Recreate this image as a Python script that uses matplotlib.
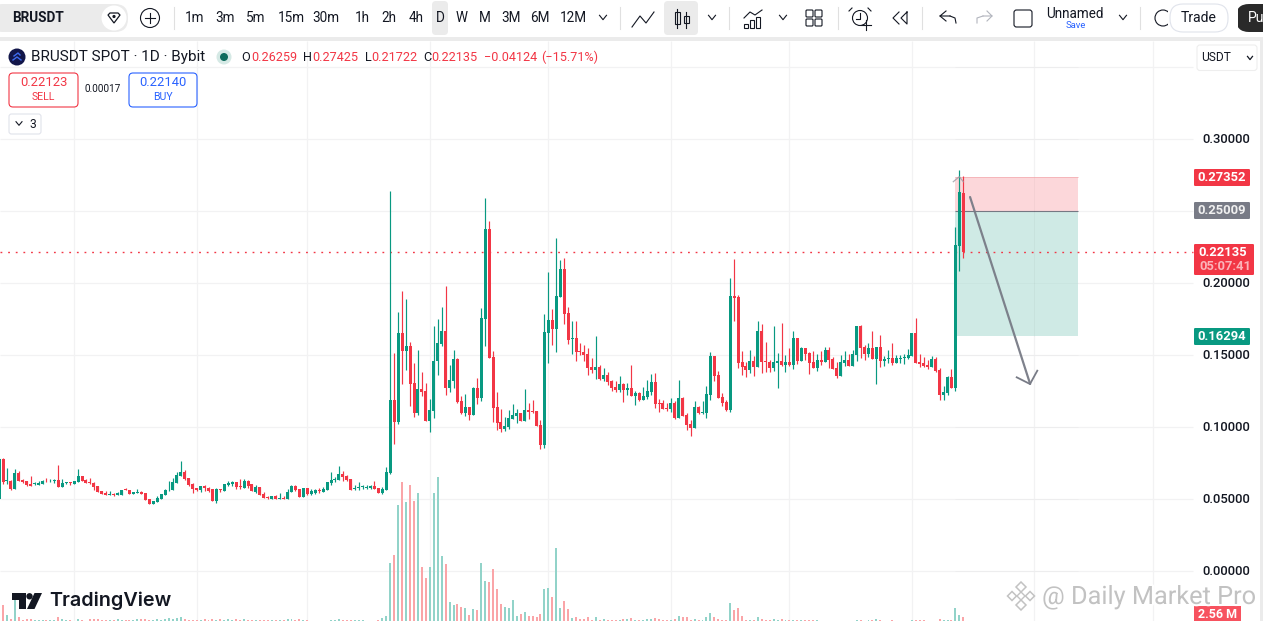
import matplotlib
matplotlib.use("Agg")
import matplotlib.pyplot as plt
import matplotlib.patheffects as pe
from matplotlib.patches import FancyBboxPatch, Circle, Rectangle, Polygon

plt.rcParams['font.family'] = ['Roboto', 'DejaVu Sans']

# ---------- data (daily candles, BRUSDT) ----------
opens = [.0500,
 .0778,.0625,.0625,.0570,.0681,.0632,.0625,.0604,.0604,.0598,
 .0604,.0625,.0623,.0625,.0632,.0584,.0612,.0618,.0607,.0618,
 .0660,.0632,.0618,.0611,.0591,.0558,.0544,.0528,.0535,.0528,
 .0528,.0570,.0563,.0535,
 .0544,.0549,.0542,.0500,.0466,.0480,.0500,.0528,.0560,.0563,
 .0611,.0660,.0688,.0646,.0604,.0577,.0563,.0591,.0577,.0570,
 .0486,.0570,.0556,.0598,.0604,.0618,.0591,.0577,.0625,.0604,.0549,
 .0584,.0535,.0514,.0500,.0521,.0500,.0507,.0503,.0549,.0591,
 .0570,.0514,.0577,.0535,.0542,.0563,.0549,.0563,.0611,.0632,
 .0632,.0674,.0660,.0639,.0572,.0579,.0581,.0579,.0577,.0591,
 .0577,.0542,.0563,
 .0679,.1188,.1035,.1653,.1528,.1562,.1306,.1097,.1264,.1250,
 .1042,.1111,.1458,.1576,.1667,.1271,.1319,.1472,.1181,.1097,
 .1139,.1083,.1271,.1201,.1750,.2375,.1486,.1139,.1035,.0986,
 .1000,.1056,.1076,.1097,.1042,.1118,.1111,.1111,.1014,.0875,
 .1653,.1743,.1681,.1903,.2097,.1792,.1611,.1618,
 .1528,.1521,.1507,.1417,.1396,.1417,.1333,.1361,.1319,.1278,
 .1257,.1299,.1257,.1271,.1215,.1236,.1188,.1208,.1243,.1312,
 .1167,.1167,.1132,.1125,.1167,.1062,.1201,.1083,.1021,.0993,
 .1139,.1097,.1097,.1222,.1493,.1361,.1208,.1174,.1118,.1910,
 .1903,.1451,.1424,.1396,.1458,.1417,
 .1667,.1458,.1451,.1410,.1444,.1458,.1430,.1451,.1430,.1618,
 .1458,.1549,.1514,.1451,.1410,.1465,.1451,.1535,.1472,.1410,
 .1354,.1444,.1465,.1423,.1500,.1701,.1555,.1507,.1549,.1472,
 .1555,.1458,.1472,.1479,.1444,.1474,.1481,.1479,.1493,.1653,
 .1451,.1444,.1430,.1416,.1472,.1396,.1222,.1236,.1347,.1271,
 .2257,.26259]
highs = [.0785,
 .0785,.0716,.0632,.0709,.0695,.0639,.0625,.0660,.0618,.0625,
 .0632,.0646,.0639,.0639,.0736,.0639,.0618,.0618,.0625,.0709,
 .0660,.0639,.0646,.0618,.0591,.0558,.0556,.0556,.0542,.0549,
 .0563,.0577,.0563,.0549,
 .0570,.0556,.0542,.0500,.0486,.0521,.0535,.0570,.0625,.0646,
 .0688,.0764,.0702,.0646,.0611,.0577,.0591,.0598,.0584,.0570,
 .0577,.0570,.0604,.0625,.0625,.0618,.0639,.0639,.0632,.0604,.0598,
 .0584,.0549,.0521,.0521,.0528,.0542,.0521,.0570,.0598,.0598,
 .0570,.0577,.0577,.0570,.0570,.0577,.0584,.0618,.0688,.0653,
 .0730,.0695,.0667,.0639,.0598,.0618,.0598,.0598,.0598,.0625,
 .0577,.0584,.0723,
 .2639,.1514,.1798,.1945,.1889,.1590,.1445,.1535,.1382,.1306,
 .1194,.1701,.1750,.1833,.1979,.1431,.1535,.1479,.1215,.1229,
 .1139,.1278,.1340,.1826,.2590,.2431,.1528,.1243,.1125,.1069,
 .1118,.1160,.1125,.1097,.1264,.1167,.1188,.1111,.1049,.1785,
 .2076,.1819,.2313,.2160,.2174,.1833,.1736,.1736,
 .1583,.1569,.1549,.1479,.1632,.1431,.1410,.1382,.1326,.1319,
 .1354,.1306,.1306,.1431,.1250,.1243,.1278,.1326,.1368,.1375,
 .1194,.1188,.1167,.1201,.1181,.1326,.1208,.1097,.1049,.1181,
 .1146,.1181,.1285,.1521,.1493,.1389,.1236,.1188,.2035,.2167,
 .1917,.1528,.1451,.1535,.1493,.1736,
 .1715,.1590,.1465,.1701,.1514,.1722,.1500,.1549,.1667,.1618,
 .1555,.1549,.1521,.1528,.1507,.1528,.1555,.1555,.1486,.1451,
 .1500,.1528,.1507,.1535,.1701,.1708,.1570,.1583,.1667,.1555,
 .1639,.1493,.1535,.1583,.1500,.1500,.1507,.1542,.1653,.1757,
 .1507,.1486,.1465,.1493,.1486,.1410,.1285,.1354,.1403,.2389,
 .2785,.27425]
lows = [.0500,
 .0604,.0604,.0563,.0570,.0625,.0611,.0591,.0591,.0598,.0598,
 .0604,.0618,.0618,.0611,.0584,.0584,.0604,.0598,.0607,.0618,
 .0625,.0611,.0604,.0563,.0549,.0535,.0528,.0528,.0521,.0528,
 .0528,.0563,.0535,.0535,
 .0542,.0535,.0493,.0466,.0466,.0480,.0500,.0528,.0556,.0563,
 .0611,.0660,.0632,.0591,.0542,.0556,.0549,.0556,.0549,.0486,
 .0473,.0549,.0556,.0591,.0591,.0570,.0570,.0577,.0577,.0556,.0542,
 .0528,.0507,.0500,.0500,.0500,.0500,.0500,.0500,.0549,.0556,
 .0514,.0514,.0528,.0528,.0535,.0542,.0549,.0563,.0598,.0618,
 .0632,.0625,.0625,.0563,.0563,.0563,.0570,.0570,.0570,.0570,
 .0542,.0535,.0563,
 .0674,.0882,.1021,.1299,.1396,.1146,.1069,.1083,.1215,.1042,
 .0965,.1063,.1361,.1562,.1222,.1243,.1271,.1167,.1090,.1076,
 .1049,.1083,.1160,.1181,.1562,.1479,.1035,.0979,.0965,.0972,
 .0986,.1056,.1028,.1042,.1042,.1056,.1097,.1007,.0847,.0854,
 .1445,.1569,.1521,.1903,.1715,.1576,.1507,.1458,
 .1500,.1458,.1361,.1375,.1333,.1326,.1319,.1292,.1250,.1243,
 .1243,.1174,.1222,.1215,.1153,.1181,.1188,.1194,.1222,.1132,
 .1104,.1125,.1111,.1104,.1055,.1062,.1076,.0979,.0937,.0993,
 .1090,.1090,.1062,.1188,.1319,.1201,.1146,.1111,.1104,.1736,
 .1410,.1361,.1347,.1375,.1354,.1417,
 .1375,.1382,.1382,.1389,.1271,.1423,.1382,.1423,.1403,.1437,
 .1458,.1465,.1368,.1410,.1389,.1430,.1451,.1410,.1403,.1340,
 .1354,.1423,.1423,.1423,.1458,.1479,.1465,.1486,.1472,.1298,
 .1416,.1423,.1444,.1430,.1444,.1444,.1437,.1472,.1493,.1444,
 .1416,.1416,.1403,.1416,.1382,.1187,.1187,.1222,.1271,.1250,
 .2083,.21722]
closes = [.0778,
 .0618,.0630,.0570,.0681,.0625,.0618,.0598,.0591,.0611,.0611,
 .0625,.0623,.0627,.0630,.0584,.0611,.0618,.0612,.0625,.0660,
 .0625,.0611,.0611,.0584,.0549,.0535,.0528,.0535,.0528,.0540,
 .0563,.0563,.0535,.0549,
 .0551,.0535,.0493,.0466,.0486,.0507,.0535,.0563,.0565,.0618,
 .0667,.0688,.0639,.0598,.0570,.0563,.0591,.0577,.0556,.0486,
 .0570,.0563,.0604,.0609,.0616,.0581,.0582,.0625,.0591,.0556,.0584,
 .0528,.0507,.0509,.0521,.0500,.0509,.0503,.0549,.0591,.0563,
 .0514,.0577,.0535,.0556,.0563,.0556,.0570,.0618,.0632,.0639,
 .0674,.0653,.0632,.0563,.0579,.0584,.0588,.0586,.0591,.0570,
 .0542,.0570,.0688,
 .1188,.1035,.1653,.1528,.1562,.1299,.1097,.1264,.1243,.1042,
 .1118,.1458,.1583,.1667,.1271,.1326,.1472,.1174,.1097,.1139,
 .1083,.1271,.1201,.1757,.2375,.1479,.1132,.1028,.0986,.1007,
 .1063,.1083,.1097,.1042,.1118,.1104,.1104,.1007,.0875,.1660,
 .1743,.1681,.1910,.2097,.1785,.1604,.1618,.1521,
 .1521,.1500,.1410,.1396,.1417,.1333,.1361,.1312,.1271,.1257,
 .1299,.1257,.1271,.1215,.1236,.1188,.1215,.1250,.1312,.1160,
 .1160,.1125,.1125,.1167,.1062,.1201,.1076,.1014,.0993,.1139,
 .1097,.1104,.1229,.1493,.1354,.1201,.1167,.1118,.1910,.1896,
 .1445,.1417,.1396,.1458,.1417,.1667,
 .1451,.1451,.1410,.1451,.1458,.1430,.1451,.1430,.1618,.1458,
 .1549,.1507,.1444,.1410,.1465,.1451,.1535,.1465,.1403,.1354,
 .1451,.1465,.1423,.1507,.1701,.1549,.1507,.1549,.1472,.1555,
 .1458,.1472,.1479,.1444,.1479,.1481,.1486,.1500,.1653,.1444,
 .1437,.1423,.1416,.1472,.1389,.1222,.1243,.1347,.1271,.2264,
 .2632,.22135]
# volume in millions
volumes = [7.5,
 8.5,3.5,1.5,11,2.5,1,1.3,1.3,1,1,
 1,1,1,.8,2.5,1.5,1,1,.5,1.5,
 1,.5,1.5,1.3,1.3,1,1,1,1,1.5,
 1,1,1,1,
 1.3,1.3,1.3,1,1,1.3,1,1.3,2,1.5,
 2,2.5,1.5,1,1,1,1,1.3,1,1.3,
 1,1.3,1,1.3,1,1.3,1,1.3,1,1,1,
 .8,1,1,1,.8,1,1,1.5,1.3,1,
 1.3,1,.8,.5,.5,.5,.5,.5,1,1,
 1.3,1,.8,1,1,1,.8,.5,.5,.5,
 1,2,3,
 29.5,33.5,58.5,70,60,68.5,60.5,64.5,27.5,22,
 27.5,64.5,72.5,33,29,10,8.5,9,7.5,7,
 3.5,6.5,6,29.5,20.5,20,26.5,16.5,9,7.5,
 7,11,3,4,5,3,3,2.5,4,16.5,
 17,12.5,37,7,10.5,6.5,2,2.5,
 1.5,1.5,2.5,1,2.5,1,1.5,1,1,1,
 1,1.5,1.5,2,1,1,1,1.5,1.5,2,
 1.5,1,1,1,1.5,3,
 2.5,2.5,1,1.5,1,1,2.5,4.5,2.5,1.5,
 1,1,9.5,6,7,3,1,1,1,2.5,
 1.5,1,1,1.5,1,1.5,1,1,1,1,
 1,1,1,1,1,.4,.4,.4,.4,.4,
 .4,.4,.4,.4,1,1,.4,1,1,1.5,
 1,.4,.4,1,.4,.4,.4,.4,1,1,
 1,1,.4,.4,.4,1.5,1,1,1,7,
 3.5,2.56]
month_starts = [19, 50, 78, 109, 139, 170, 200, 231, 262, 292]
price_ticks = [0.35, 0.30, 0.25, 0.20, 0.15, 0.10, 0.05, 0.00]
price_labels = ['', '0.30000', '', '0.20000', '0.15000', '0.10000', '0.05000', '0.00000']
entry_price, stop_price, target_price = 0.25009, 0.27352, 0.16294
last_close = 0.22135
position_bars = (242, 273)
arrow_bars = (245.7, 260.9)
arrow_prices = (0.2597, 0.1299)

GREEN, RED, GRAY = '#089981', '#f23645', '#787b86'
n = len(closes)
assert all(len(a) == n for a in (opens, highs, lows, volumes)), [len(a) for a in (opens, highs, lows, closes, volumes)]

W, H = 1263, 621
fig = plt.figure(figsize=(W/100, H/100), dpi=100, facecolor='white')

# scales: one bar = 3.952 px, 0.05 = 72 px
BAR = 3.952
X0 = -0.95
bar_left, bar_right = (0 - X0)/BAR, (W - X0)/BAR
ax = fig.add_axes([0, 0, 1, 1], zorder=1)
ax.set_xlim(bar_left, bar_right)
ax.set_ylim((571-621)/1440, 571/1440)
ax.axis('off')
vol = fig.add_axes([0, 0, 1, 1], zorder=2, sharex=ax)
vol.set_ylim(0.5, 311)
vol.axis('off')
vol.patch.set_alpha(0)
ax2 = fig.add_axes([0, 0, 1, 1], zorder=3, sharex=ax, sharey=ax)
ax2.axis('off')
ax2.patch.set_alpha(0)
ui = fig.add_axes([0, 0, 1, 1], zorder=4)
ui.set_xlim(0, W)
ui.set_ylim(H, 0)
ui.axis('off')
ui.patch.set_alpha(0)

# grid
grid_end = (1193 - X0)/BAR
ax.hlines(price_ticks, bar_left, grid_end, color='#f2f2f3', lw=0.9, zorder=0)
ax.vlines(month_starts, (571-621)/1440, (571-41)/1440, color='#f2f2f3', lw=0.9, zorder=0)

# trade position box
ax.add_patch(Rectangle((position_bars[0], entry_price), position_bars[1]-position_bars[0], stop_price-entry_price,
                       fc='#fcd7da', ec='none', zorder=1))
ax.add_patch(Rectangle((position_bars[0], target_price), position_bars[1]-position_bars[0], entry_price-target_price,
                       fc='#cfeae5', ec='none', zorder=1))
ax.hlines(entry_price, position_bars[0], position_bars[1], color=GRAY, lw=0.8, zorder=2)
ax.hlines(stop_price, position_bars[0], position_bars[1], color='#f5b5ba', lw=0.7, zorder=2)
ax.hlines(price_ticks, position_bars[0], position_bars[1], color='#000000', alpha=0.02, lw=0.8, zorder=2)
ax.vlines([m for m in month_starts if position_bars[0] < m < position_bars[1]],
          target_price, stop_price, color='#000000', alpha=0.03, lw=0.8, zorder=2)

# last price line
ax.plot([bar_left, grid_end], [last_close, last_close], color=RED, lw=1, dashes=(1.3, 4.2), zorder=3)

# volume bars
xs = list(range(n))
vol_colors = ['#92d3c9' if c >= o else '#faa5a8' for o, c in zip(opens, closes)]
vol.bar(xs, volumes, width=0.5, color=vol_colors, lw=0)

# candles
cols = [GREEN if c >= o else RED for o, c in zip(opens, closes)]
ax2.vlines(xs, lows, highs, colors=cols, lw=0.85, zorder=3)
ax2.bar(xs, [abs(c-o) for o, c in zip(opens, closes)], bottom=[min(o, c) for o, c in zip(opens, closes)],
        width=0.76, color=cols, lw=0, zorder=4)

# drawn arrow
ax2.plot(arrow_bars, arrow_prices, color=GRAY, lw=1.6, alpha=0.95, zorder=6, solid_capstyle='round')
ui.plot([1016.7, 1030, 1037.3], [377.3, 384, 370.7], color=GRAY, lw=1.3, zorder=6)
ui.plot([953.3, 959.3, 963.3], [181.7, 176.7, 181.7], color='#9a9ca6', lw=0.9, alpha=.8, zorder=6)

# ---------- UI helpers ----------
def T(x, y, s, size=13, color='#131722', ha='left', va='center', weight='normal', **kw):
    return ui.text(x, y, s, fontsize=size*0.72, color=color, ha=ha, va=va, fontweight=weight, **kw)

def box(x0, y0, x1, y1, r=3, fc='white', ec='none', lw=1, **kw):
    p = FancyBboxPatch((x0+r, y0+r), x1-x0-2*r, y1-y0-2*r, boxstyle=f'round,pad={r}',
                       fc=fc, ec=ec, lw=lw, **kw)
    ui.add_patch(p)
    return p

def chev(x, y, w=3.5, h=2.2, c='#131722', lw=0.8):
    ui.plot([x-w, x, x+w], [y-h, y+h, y-h], color=c, lw=lw)

def L(xs_, ys_, c='#131722', lw=0.8, **kw):
    ui.plot(xs_, ys_, color=c, lw=lw, **kw)

# chart frame and toolbar
ui.add_patch(Rectangle((0, 0), W, 37, fc='white', ec='none'))
ui.add_patch(Rectangle((0, 37), W, 4, fc='#ebebeb', ec='none'))
ui.add_patch(Rectangle((1260, 37), 3, H-37, fc='#ebebeb', ec='none'))
box(-10, 4, 128, 32, r=13, fc='#ebebeb')
ui.add_patch(Circle((114, 18), 12.5, fc='white', ec='none'))
ui.add_patch(Polygon([(108, 15), (110, 13), (118, 13), (120, 15), (114, 23)], fc='white', ec='#131722', lw=0.9))
ui.add_patch(Circle((114, 16.5), 1.6, fc='#131722', ec='none'))
T(12, 18, 'BRUSDT', size=13.5, weight='bold')
ui.add_patch(Circle((150, 18), 9.5, fc='white', ec='#131722', lw=0.8))
L([145, 155], [18, 18]); L([150, 150], [13, 23])
for sx in (174, 620, 729, 838, 922, 1140):
    L([sx, sx], [7, 29], c='#e0e0e0', lw=0.8)
box(432, 1, 448, 35, r=4, fc='#ebebeb')
box(664, 1, 698, 35, r=4, fc='#ebebeb')
for cx, s in [(195, '1m'), (225, '3m'), (256, '5m'), (291, '15m'), (326, '30m'), (362, '1h'), (389, '2h'),
              (416, '4h'), (440, 'D'), (462, 'W'), (485, 'M'), (511, '3M'), (540, '6M'), (573, '12M')]:
    T(cx, 18, s, size=13.5, ha='center')
chev(603, 17.5)
L([632, 640, 646, 654], [27, 16, 23, 12])
L([677, 677], [9, 28]); ui.add_patch(Rectangle((674.5, 12), 5, 12, fc='none', ec='#131722', lw=0.8))
L([686, 686], [12, 28]); ui.add_patch(Rectangle((684, 16), 4.5, 7, fc='none', ec='#131722', lw=0.8))
chev(712, 17.5)
L([744, 750, 755, 762], [18, 12, 15, 10])
for bx, bt in [(745, 24), (751, 20), (757, 17)]:
    ui.add_patch(Rectangle((bx-1, bt), 4, 28-bt, fc='none', ec='#131722', lw=0.8))
chev(783, 17.5)
for qx in (806, 815):
    for qy in (10, 19):
        ui.add_patch(FancyBboxPatch((qx+1, qy+1), 5, 5, boxstyle='round,pad=1', fc='none', ec='#131722', lw=0.8))
ui.add_patch(Circle((860, 18), 7.5, fc='none', ec='#131722', lw=0.8))
L([860, 860, 856], [13, 19, 19]); L([852, 849], [8, 11]); L([868, 871], [8, 11])
L([861, 871], [25, 25]); L([866, 866], [20, 30])
L([899, 893, 899], [12, 18, 24]); L([907, 901, 907, 907], [12, 18, 24, 12])
L([950, 940, 946], [16, 16, 11]); L([940, 946], [16, 21]); L([950, 955, 956], [16, 18, 23])
L([983, 992, 987], [16, 16, 11], c='#b2b5be'); L([992, 987], [16, 21], c='#b2b5be'); L([983, 977, 977], [16, 18, 23], c='#b2b5be')
box(1014, 10, 1032, 27, r=2.5, fc='white', ec='#131722', lw=0.8)
T(1046, 13.5, 'Unnamed', size=13.5)
T(1075.5, 26, 'Save', size=9.5, color='#2962ff', ha='center')
chev(1123, 17.5)
ui.add_patch(Circle((1163, 18), 8, fc='none', ec='#131722', lw=0.8))
ui.add_patch(Rectangle((1168, 4), 70, 30, fc='white', ec='none', zorder=3))
box(1170, 4, 1228, 32, r=13, fc='white', ec='#e0e3eb', lw=0.8, zorder=4)
T(1199, 18, 'Trade', size=14, ha='center', zorder=5)
box(1236, 4, 1290, 32, r=13, fc='#2a2a2a', clip_on=True)
T(1248, 18, 'Pu', size=14, color='white')
ui.add_patch(Rectangle((1260, 37), 3, 4, fc='#ebebeb', ec='none'))

# legend
ui.add_patch(Circle((17, 57), 8.5, fc='#12164a', ec='none'))
L([13, 17, 21], [60, 57, 60], c='#3f6cf0', lw=1); L([14, 18, 20], [56, 53, 55], c='#3f6cf0', lw=1)
T(31, 57.5, 'BRUSDT SPOT · 1D · Bybit', size=15.2)
ui.add_patch(Circle((224, 57), 7.5, fc='#d5e9e5', ec='none'))
ui.add_patch(Circle((224, 57), 4, fc='#0f6c5d', ec='none'))
for x, s, c in [(241, 'O', '#131722'), (251, '0.26259', RED), (303, 'H', '#131722'), (312, '0.27425', RED),
                (364.5, 'L', '#131722'), (371, '0.21722', RED), (423, 'C', '#131722'), (431, '0.22135', RED),
                (484, '−0.04124', RED), (541, '(−15.71%)', RED)]:
    T(x, 57.5, s, size=12.6, color=c)
box(9, 73, 78, 107, r=4, fc='white', ec=RED, lw=0.8)
T(43.5, 83, '0.22123', size=13, color=RED, ha='center')
T(43.5, 97, 'SELL', size=10.5, color=RED, ha='center')
T(103, 89, '0.00017', size=10, ha='center')
box(129, 73, 197, 107, r=4, fc='white', ec='#2962ff', lw=0.8)
T(163, 83, '0.22140', size=13, color='#2962ff', ha='center')
T(163, 97, 'BUY', size=10.5, color='#2962ff', ha='center')
box(9, 114, 41, 134, r=2.5, fc='white', ec='#e0e3eb', lw=0.8)
chev(19, 123.5, w=3, h=1.8)
T(29, 124, '3', size=12)

# price scale
box(1197, 45, 1257, 70.5, r=3, fc='white', ec='#eeeeee', lw=0.8)
T(1201, 57.5, 'USDT', size=12)
chev(1250, 58, w=2.5, h=1.6, lw=0.9)
for p, lab in zip(price_ticks, price_labels):
    if lab:
        T(1202, 571 - p*1440 + 0.5, lab, size=13, weight='medium')
def tag(y0, y1, fc, right=1250):
    box(1194, y0, right, y1, r=1.2, fc=fc)
tag(169, 186, RED); T(1222, 177.5, '0.27352', size=13, color='white', ha='center', weight='bold')
tag(202, 219, GRAY); T(1222, 211, '0.25009', size=13, color='#f0f0f0', ha='center', weight='bold')
tag(244, 275, RED, right=1254)
T(1223, 252.5, '0.22135', size=13, color='white', ha='center', weight='bold')
T(1225, 266.5, '05:07:41', size=13, color='#fbb4ba', ha='center', weight='bold')
tag(328, 345, GREEN); T(1222, 336.5, '0.16294', size=13, color='white', ha='center', weight='bold')
ui.add_patch(Rectangle((1194, 606), 47, 16, fc='#f7525f', ec='none'))
T(1217.5, 614.5, '2.56 M', size=12.5, color='white', ha='center', weight='bold')

# TradingView logo
logo = '#131722'
ui.add_patch(Polygon([(12, 593), (26, 593), (26, 609), (19, 609), (19, 599.5), (12, 599.5)], fc=logo, ec='none'))
ui.add_patch(Circle((29.5, 596.3), 3.2, fc=logo, ec='none'))
ui.add_patch(Polygon([(34.5, 593), (42, 593), (34.5, 609), (27, 609)], fc=logo, ec='none'))
ui.text(49, 601, 'TradingView', fontsize=19.8*0.72, family=['Inter', 'Roboto'], fontweight='semibold',
        color=logo, ha='left', va='center')

# watermark
halo = [pe.withStroke(linewidth=3, foreground='white')]
wm = '#c2c2c2'
for (cx, cy, r) in [(1021, 587, 5), (1012, 596, 4.5), (1030, 596, 4.5), (1021, 605, 5)]:
    ui.add_patch(Polygon([(cx, cy-r), (cx+r, cy), (cx, cy+r), (cx-r, cy)], fc='white', ec=wm, lw=1.1, zorder=6))
ui.add_patch(Polygon([(1021, 592), (1025, 596), (1021, 600), (1017, 596)], fc='white', ec=wm, lw=1, zorder=6))
t = T(1042, 597, '@ Daily Market Pro', size=25.3, color=wm, zorder=7)
t.set_path_effects(halo)

fig.savefig('out.png', dpi=100, facecolor='white')
